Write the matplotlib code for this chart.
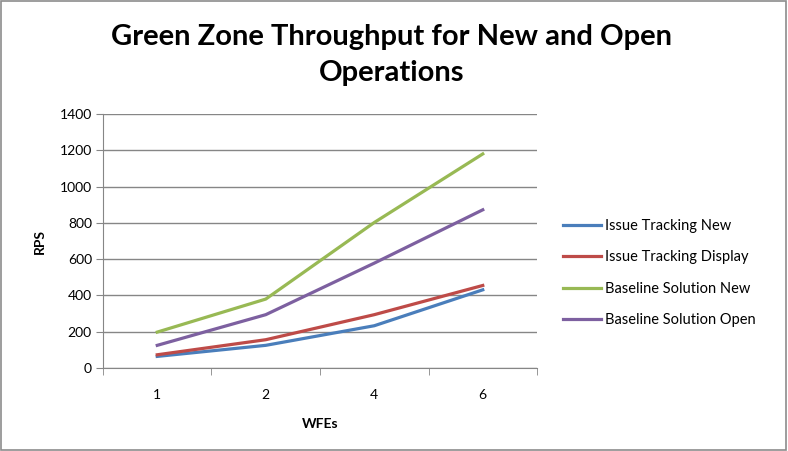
import matplotlib
matplotlib.use("Agg")
import matplotlib.pyplot as plt
from matplotlib.patches import Rectangle

wfes = ["1", "2", "4", "6"]
issue_new = [64, 125, 233, 431]
issue_display = [73, 156, 294, 455]
baseline_new = [198, 380, 802, 1180]
baseline_open = [125, 294, 578, 872]

plt.rcParams["font.family"] = ["Lato", "DejaVu Sans"]

fig = plt.figure(figsize=(7.88, 4.51), dpi=100)
fig.patches.append(Rectangle((0.001, 0.002), 0.997, 0.995, transform=fig.transFigure,
                             fill=False, edgecolor="#8c8c8c", linewidth=1.2))
ax = fig.add_axes([0.1307, 0.184, 0.5508, 0.5632])

x = list(range(len(wfes)))
ax.plot(x, issue_new, color="#4A7EBB", lw=2.3, label="Issue Tracking New")
ax.plot(x, issue_display, color="#BE4B48", lw=2.3, label="Issue Tracking Display")
ax.plot(x, baseline_new, color="#98B954", lw=2.3, label="Baseline Solution New")
ax.plot(x, baseline_open, color="#7D60A0", lw=2.3, label="Baseline Solution Open")

ax.set_xlim(-0.5, len(wfes) - 0.5)
ax.set_ylim(0, 1400)
ax.set_yticks(range(0, 1401, 200))
ax.set_xticks(x)
ax.set_xticklabels(wfes)
ax.set_xticks([i - 0.5 for i in range(len(wfes) + 1)], minor=True)
ax.tick_params(axis="x", which="major", length=0, pad=15, labelsize=10)
ax.tick_params(axis="x", which="minor", length=5, color="#868686")
ax.tick_params(axis="y", length=5, color="#868686", labelsize=10, pad=3)
ax.grid(axis="y", color="#868686", lw=1)
ax.set_axisbelow(True)
for s in ["top", "right"]:
    ax.spines[s].set_visible(False)
for s in ["left", "bottom"]:
    ax.spines[s].set_color("#868686")

ax.set_xlabel("WFEs", fontweight="bold", fontsize=10, labelpad=12)
ax.set_ylabel("RPS", fontweight="bold", fontsize=10, labelpad=10)

fig.text(0.497, 0.878, "Green Zone Throughput for New and Open\nOperations",
         ha="center", va="center", fontsize=21, fontweight="bold", linespacing=1.5)

ax.legend(loc="center left", bbox_to_anchor=(1.03, 0.374), frameon=False,
          fontsize=10.5, handlelength=2.6, handletextpad=0.3, labelspacing=1.2)

fig.savefig("out.png", dpi=100)
